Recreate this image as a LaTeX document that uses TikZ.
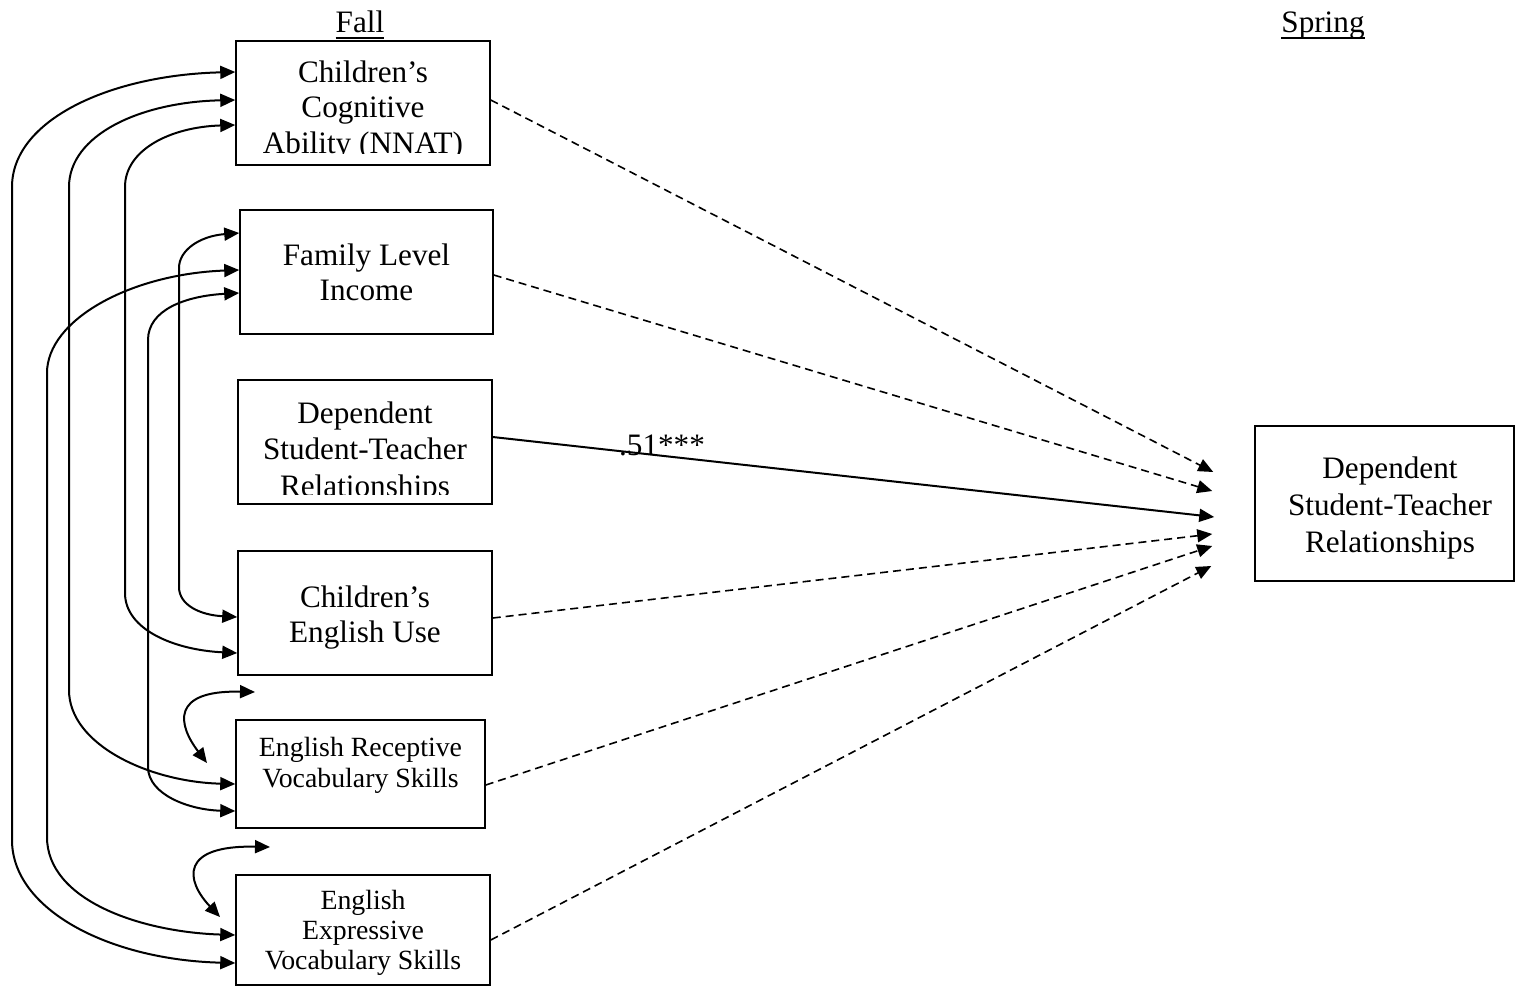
\documentclass[tikz,border=0pt]{standalone}
\usepackage{fontspec}
\setmainfont{Liberation Serif}
\usetikzlibrary{arrows.meta}
\newcommand\myul[1]{\setbox0\hbox{#1}\rlap{\rule[-3.6pt]{\wd0}{0.9pt}}\box0}
\begin{document}
\begin{tikzpicture}[x=0.5pt,y=-0.5pt,
  >={Triangle[length=7.5pt,width=6.5pt]},
  box/.style={draw,line width=0.75pt,inner sep=0pt},
  txt/.style={anchor=north,align=center,inner sep=0pt},
  big/.style={font=\fontsize{15.6pt}{#1pt}\selectfont},
  small/.style={font=\fontsize{13.9pt}{#1pt}\selectfont},
  cov/.style={<->,line width=1pt},
  eff/.style={->,line width=0.8pt,dash pattern=on 4pt off 2.5pt},
  sig/.style={->,line width=1pt}]
\useasboundingbox (0,0) rectangle (1515,986);

% boxes
\node[box,minimum width=127pt,minimum height=62pt] (cog) at (363,103) {};
\node[box,minimum width=126.5pt,minimum height=62pt] (fam) at (366.5,272) {};
\node[box,minimum width=127pt,minimum height=62pt] (dep) at (365,442) {};
\node[box,minimum width=127pt,minimum height=62pt] (use) at (365,613) {};
\node[box,minimum width=124.5pt,minimum height=54pt] (rec) at (360.5,774) {};
\node[box,minimum width=127pt,minimum height=55pt] (exp) at (363,930) {};
\node[box,minimum width=129.5pt,minimum height=77.5pt] (rt) at (1384.5,503.5) {};

% texts
\begin{scope}
\clip (cog.north west) rectangle ([shift={(0,-12)}]cog.south east);
\node[txt,big=17.75] (cogtxt) at ([shift={(0,19.7)}]cog.north) {Children’s\\Cognitive\\Ability (NNAT)};
\end{scope}
\node[txt,big=17.5] (famtxt) at ([shift={(0,33.7)}]fam.north) {Family Level\\Income};
\begin{scope}
\clip (dep.north west) rectangle ([shift={(0,-10)}]dep.south east);
\node[txt,big=18.25] (deptxt) at ([shift={(0,21.7)}]dep.north) {Dependent\\Student-Teacher\\Relationships};
\end{scope}
\node[txt,big=17.5] (usetxt) at ([shift={(0,34.7)}]use.north) {Children’s\\English Use};
\node[txt,small=15.5] (rectxt) at ([shift={(0,18)}]rec.north) {English Receptive\\Vocabulary Skills};
\begin{scope}
\clip (exp.north west) rectangle ([shift={(0,-9)}]exp.south east);
\node[txt,small=15] (exptxt) at ([shift={(0,16)}]exp.north) {English\\Expressive\\Vocabulary Skills};
\end{scope}
\node[txt,big=18.5] (rttxt) at ([shift={(5.5,30.7)}]rt.north) {Dependent\\Student-Teacher\\Relationships};

\node[anchor=base,big=18,inner sep=0pt] (fall) at (360,32) {\myul{Fall}};
\node[anchor=base,big=18,inner sep=0pt] (spring) at (1323,32) {\myul{Spring}};

% paths to spring outcome
\draw[eff] ([shift={(0,-3)}]cog.east) -- ([shift={(-41,-31.5)}]rt.west);
\draw[eff] ([shift={(0,3)}]fam.east) -- ([shift={(-42,-12.5)}]rt.west);
\draw[sig] ([shift={(0,-5)}]dep.east) -- ([shift={(-40,13.5)}]rt.west);
\draw[eff] ([shift={(0,5)}]use.east) -- ([shift={(-42,30.5)}]rt.west);
\draw[eff] ([shift={(0,11)}]rec.east) -- ([shift={(-42,42.5)}]rt.west);
\draw[eff] ([shift={(0,10)}]exp.east) -- ([shift={(-43,62.5)}]rt.west);
\node[anchor=base,big=18,inner sep=0pt] (coef) at (662,455) {.51***};

% covariances
\draw[cov] ([shift={(0,-31)}]cog.west) .. controls (110,75) and (12,120) .. (12,187)
  -- (12,840) .. controls (12,910) and (110,960) .. ([shift={(0,33)}]exp.west);
\draw[cov] ([shift={(0,-3)}]cog.west) .. controls (140,102) and (69,135) .. (69,187)
  -- (69,690) .. controls (69,745) and (150,782) .. ([shift={(0,10)}]rec.west);
\draw[cov] ([shift={(0,22)}]cog.west) .. controls (170,127) and (125,150) .. (125,187)
  -- (125,593) .. controls (125,630) and (175,650) .. ([shift={(0,40)}]use.west);
\draw[cov] ([shift={(0,-39)}]fam.west) .. controls (200,236) and (179,250) .. (179,268)
  -- (179,587) .. controls (179,605) and (200,615) .. ([shift={(0,4)}]use.west);
\draw[cov] ([shift={(0,-2)}]fam.west) .. controls (130,274) and (47,320) .. (47,373)
  -- (47,837) .. controls (47,900) and (140,932) .. ([shift={(0,5)}]exp.west);
\draw[cov] ([shift={(0,21)}]fam.west) .. controls (185,296) and (148,310) .. (148,340)
  -- (148,767) .. controls (148,795) and (190,810) .. ([shift={(0,37)}]rec.west);

\coordinate (g1) at (255,692);
\coordinate (g2) at (207,763);
\coordinate (h1) at (270,847);
\coordinate (h2) at (220,917);
\draw[cov] (g1) .. controls (170,690) and (178,725) .. (g2);
\draw[cov] (h1) .. controls (180,845) and (185,880) .. (h2);
\end{tikzpicture}
\end{document}
